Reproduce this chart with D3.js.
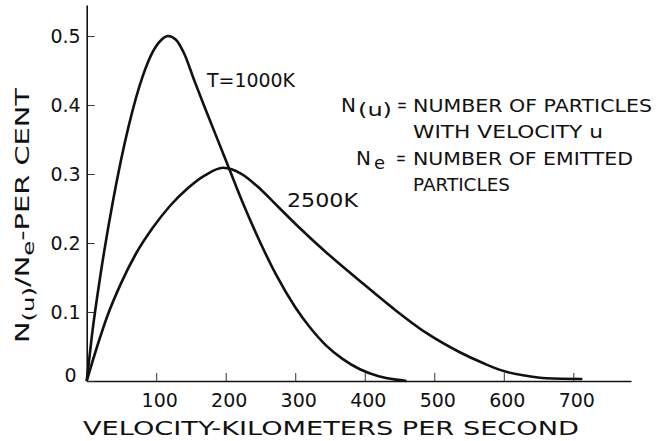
<!DOCTYPE html>
<html>
<head>
<meta charset="utf-8">
<script src="https://cdn.jsdelivr.net/npm/d3@7"></script>
<style>
  html, body { margin: 0; padding: 0; background: #fff; }
  svg { display: block; }
  text { font-family: "DejaVu Sans", sans-serif; fill: #111; }
</style>
</head>
<body>
<svg id="chart" width="667" height="441"></svg>
<script>
// ---- data ----
const velocity1000 = [0, 8, 20, 38, 60, 81, 95, 108, 117, 128, 140, 155, 170, 199, 223, 250, 273, 300, 321, 345, 368, 393, 420, 445, 460];
const fraction1000 = [0, 0.07, 0.155, 0.262, 0.368, 0.443, 0.477, 0.495, 0.5, 0.495, 0.475, 0.435, 0.396, 0.323, 0.262, 0.2, 0.153, 0.107, 0.078, 0.051, 0.032, 0.017, 0.007, 0.002, 0];

const velocity2500 = [0, 15, 30, 50, 70, 95, 120, 145, 170, 196, 223, 250, 275, 300, 345, 393, 440, 488, 536, 570, 601, 630, 661, 713];
const fraction2500 = [0, 0.05, 0.095, 0.143, 0.183, 0.222, 0.254, 0.279, 0.298, 0.309, 0.3, 0.278, 0.253, 0.228, 0.186, 0.145, 0.106, 0.07, 0.042, 0.026, 0.014, 0.008, 0.004, 0.003];

const xTickValues = [100, 200, 300, 400, 500, 600, 700];
const xTickLabels = ["100", "200", "300", "400", "500", "600", "700"];
const yTickValues = [0, 0.1, 0.2, 0.3, 0.4, 0.5];
const yTickLabels = ["0", "0.1", "0.2", "0.3", "0.4", "0.5"];

const xTitle = "VELOCITY-KILOMETERS PER SECOND";
const curveLabels = ["T=1000K", "2500K"];

// ---- drawing ----
const svg = d3.select("#chart");

const x = d3.scaleLinear().domain([0, 783]).range([86.7, 631]);
const y = d3.scaleLinear().domain([0, 0.545]).range([381, 5]);

// x axis
const xAxis = d3.axisBottom(x)
  .tickValues(xTickValues)
  .tickFormat((d, i) => xTickLabels[i])
  .tickSizeInner(-8)
  .tickSizeOuter(0)
  .tickPadding(13);
const gx = svg.append("g").attr("transform", `translate(0,${y(0)})`).call(xAxis);
gx.select(".domain").attr("stroke", "#111").attr("stroke-width", 1.6);
gx.selectAll(".tick line").attr("stroke", "#333").attr("stroke-width", 1);
gx.selectAll(".tick text").attr("font-size", 19).attr("dx", 3).attr("fill", "#111");

// y axis
const yAxis = d3.axisLeft(y)
  .tickValues(yTickValues)
  .tickFormat((d, i) => yTickLabels[i])
  .tickSizeInner(-8)
  .tickSizeOuter(0)
  .tickPadding(6);
const gy = svg.append("g").attr("transform", `translate(${x(0)},0)`).call(yAxis);
gy.select(".domain").attr("stroke", "#111").attr("stroke-width", 1.6);
gy.selectAll(".tick line").attr("stroke", "#333").attr("stroke-width", 1);
gy.selectAll(".tick text").attr("font-size", 19).attr("fill", "#111")
  .attr("dy", (d) => d === 0 ? "0.05em" : "0.32em")
  .attr("dx", (d) => d === 0 ? -4 : 0);

// curves
const line = d3.line().x(d => x(d[0])).y(d => y(d[1])).curve(d3.curveMonotoneX);
const series = [
  d3.zip(velocity1000, fraction1000),
  d3.zip(velocity2500, fraction2500)
];
svg.selectAll("path.curve").data(series).enter().append("path")
  .attr("class", "curve")
  .attr("d", line)
  .attr("fill", "none")
  .attr("stroke", "#111")
  .attr("stroke-width", 2.6)
  .attr("stroke-linejoin", "round");

// curve labels
svg.append("text").attr("x", 207).attr("y", 87).attr("font-size", 19)
  .attr("textLength", 88).attr("lengthAdjust", "spacingAndGlyphs").text(curveLabels[0]);
svg.append("text").attr("x", 287).attr("y", 207).attr("font-size", 19)
  .attr("textLength", 71).attr("lengthAdjust", "spacingAndGlyphs").text(curveLabels[1]);

// definitions
svg.append("text").attr("x", 341).attr("y", 112).attr("font-size", 20).text("N");
svg.append("text").attr("x", 358).attr("y", 116).attr("font-size", 18)
  .attr("textLength", 34).attr("lengthAdjust", "spacingAndGlyphs").text("(u)");
svg.append("text").attr("x", 397).attr("y", 111).attr("font-size", 18)
  .attr("textLength", 10).attr("lengthAdjust", "spacingAndGlyphs").text("=");
svg.append("text").attr("x", 413).attr("y", 112).attr("font-size", 18)
  .attr("textLength", 239).attr("lengthAdjust", "spacingAndGlyphs").text("NUMBER OF PARTICLES");
svg.append("text").attr("x", 413).attr("y", 138).attr("font-size", 18)
  .attr("textLength", 190).attr("lengthAdjust", "spacingAndGlyphs").text("WITH VELOCITY  u");

svg.append("text").attr("x", 356).attr("y", 165).attr("font-size", 20).text("N");
svg.append("text").attr("x", 374).attr("y", 169).attr("font-size", 18).text("e");
svg.append("text").attr("x", 396).attr("y", 164).attr("font-size", 18)
  .attr("textLength", 10).attr("lengthAdjust", "spacingAndGlyphs").text("=");
svg.append("text").attr("x", 413).attr("y", 165).attr("font-size", 18)
  .attr("textLength", 220).attr("lengthAdjust", "spacingAndGlyphs").text("NUMBER OF EMITTED");
svg.append("text").attr("x", 413).attr("y", 191).attr("font-size", 18)
  .attr("textLength", 97).attr("lengthAdjust", "spacingAndGlyphs").text("PARTICLES");

// axis titles
svg.append("text").attr("x", 83).attr("y", 435).attr("font-size", 19)
  .attr("textLength", 496).attr("lengthAdjust", "spacingAndGlyphs").text(xTitle);

const yt = svg.append("text")
  .attr("transform", "translate(29,343) rotate(-90)")
  .attr("font-size", 19)
  .attr("textLength", 255).attr("lengthAdjust", "spacingAndGlyphs");
yt.append("tspan").text("N");
yt.append("tspan").attr("dy", 5).attr("font-size", 16).text("(u)");
yt.append("tspan").attr("dy", -5).text("/N");
yt.append("tspan").attr("dy", 5).attr("font-size", 16).text("e");
yt.append("tspan").attr("dy", -5).text("-PER CENT");
</script>
</body>
</html>
